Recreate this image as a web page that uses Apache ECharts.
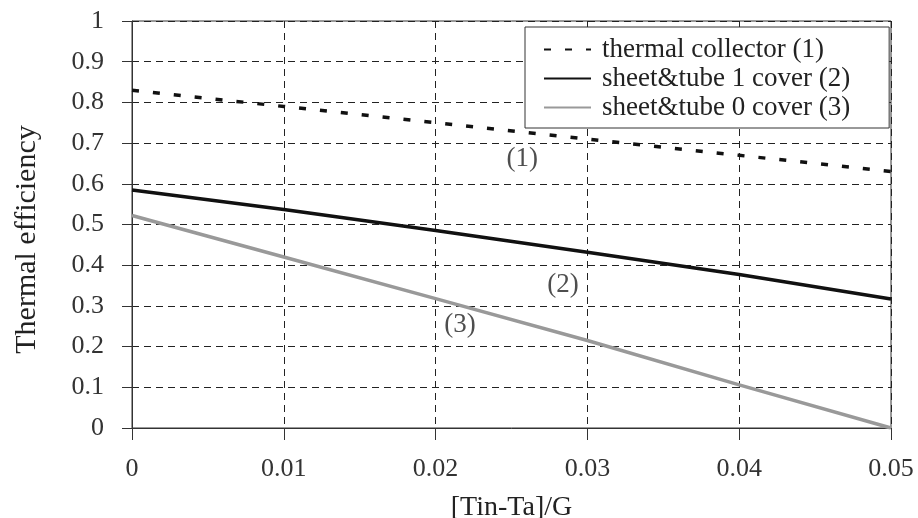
<!DOCTYPE html>
<html>
<head>
<meta charset="utf-8">
<script src="https://cdn.jsdelivr.net/npm/echarts@6/dist/echarts.min.js"></script>
<style>
  html, body { margin: 0; padding: 0; background: #fff; }
  #chart { width: 918px; height: 518px; }
</style>
</head>
<body>
<div id="chart"></div>
<script>
// x values ([Tin-Ta]/G)
const xValues = [0, 0.01, 0.02, 0.03, 0.04, 0.05]
// efficiency curves
const thermalCollector = [0.83, 0.79, 0.75, 0.71, 0.67, 0.63]
const sheetTube1Cover = [0.585, 0.537, 0.485, 0.432, 0.377, 0.317]
const sheetTube0Cover = [0.522, 0.42, 0.318, 0.215, 0.106, 0.0]
const seriesNames = ['thermal collector (1)', 'sheet&tube 1 cover (2)', 'sheet&tube 0 cover (3)']
// curve labels in data units: [x, y, text]
const curveLabels = [
  [0.0257, 0.66, '(1)'],
  [0.0284, 0.352, '(2)'],
  [0.0216, 0.254, '(3)']
]

const font = 'Liberation Serif'
const chart = echarts.init(document.getElementById('chart'))

const pairs = arr => xValues.map((x, i) => [x, arr[i]])

const option = {
  animation: false,
  textStyle: { fontFamily: font, color: '#222' },
  grid: {
    left: 132, right: 27, top: 21, bottom: 90,
    outerBoundsMode: 'none',
    containLabel: false,
    show: true, borderColor: '#333', borderWidth: 1
  },
  legend: {
    orient: 'vertical',
    left: 525,
    top: 27,
    padding: [9, 39, 7, 18],
    itemGap: 2,
    itemWidth: 47,
    itemHeight: 14,
    borderColor: '#333',
    borderWidth: 1,
    backgroundColor: '#fff',
    itemStyle: { opacity: 0 },
    data: seriesNames,
    textStyle: { fontFamily: font, fontSize: 27, color: '#222', padding: [0, 0, 0, 6] }
  },
  xAxis: {
    type: 'value',
    min: 0, max: 0.05, interval: 0.01,
    name: '[Tin-Ta]/G',
    nameLocation: 'middle',
    nameGap: 66,
    nameTextStyle: { fontFamily: font, fontSize: 28, color: '#222' },
    axisLine: { lineStyle: { color: '#333', width: 1 } },
    axisTick: { length: 12, lineStyle: { color: '#333' } },
    axisLabel: {
      fontFamily: font, fontSize: 26, color: '#333', margin: 28,
      formatter: v => String(+v.toFixed(2))
    },
    splitLine: { show: true, lineStyle: { color: '#222', type: [7, 5], width: 1 } }
  },
  yAxis: {
    type: 'value',
    min: 0, max: 1, interval: 0.1,
    name: 'Thermal efficiency',
    nameLocation: 'middle',
    nameGap: 90,
    nameTextStyle: { fontFamily: font, fontSize: 30, color: '#222', padding: [0, 30, 0, 0] },
    axisLine: { show: true, lineStyle: { color: '#333', width: 1 } },
    axisTick: { show: true, length: 10, lineStyle: { color: '#333' } },
    axisLabel: {
      fontFamily: font, fontSize: 26, color: '#333', margin: 28,
      formatter: v => String(+v.toFixed(1))
    },
    splitLine: { show: true, lineStyle: { color: '#222', type: [7, 5], width: 1 } }
  },
  series: [
    {
      name: seriesNames[0],
      type: 'line',
      data: pairs(thermalCollector),
      symbol: 'none',
      z: 3,
      itemStyle: { color: '#111' },
      lineStyle: { color: '#111', width: 3.5, type: [7, 14] }
    },
    {
      name: seriesNames[1],
      type: 'line',
      data: pairs(sheetTube1Cover),
      symbol: 'none',
      z: 3,
      itemStyle: { color: '#111' },
      lineStyle: { color: '#111', width: 3.5 }
    },
    {
      name: seriesNames[2],
      type: 'line',
      data: pairs(sheetTube0Cover),
      symbol: 'none',
      z: 3,
      itemStyle: { color: '#999' },
      lineStyle: { color: '#999', width: 3.5 }
    },
    {
      name: 'labels',
      type: 'scatter',
      data: curveLabels.map(d => ({ value: [d[0], d[1]], name: d[2] })),
      symbolSize: 0,
      silent: true,
      label: {
        show: true,
        position: 'inside',
        formatter: p => p.name,
        fontFamily: font,
        fontSize: 27,
        color: '#222'
      }
    }
  ]
}

chart.setOption(option)

window.addEventListener('resize', () => {
  chart?.resize()
})
</script>
</body>
</html>
